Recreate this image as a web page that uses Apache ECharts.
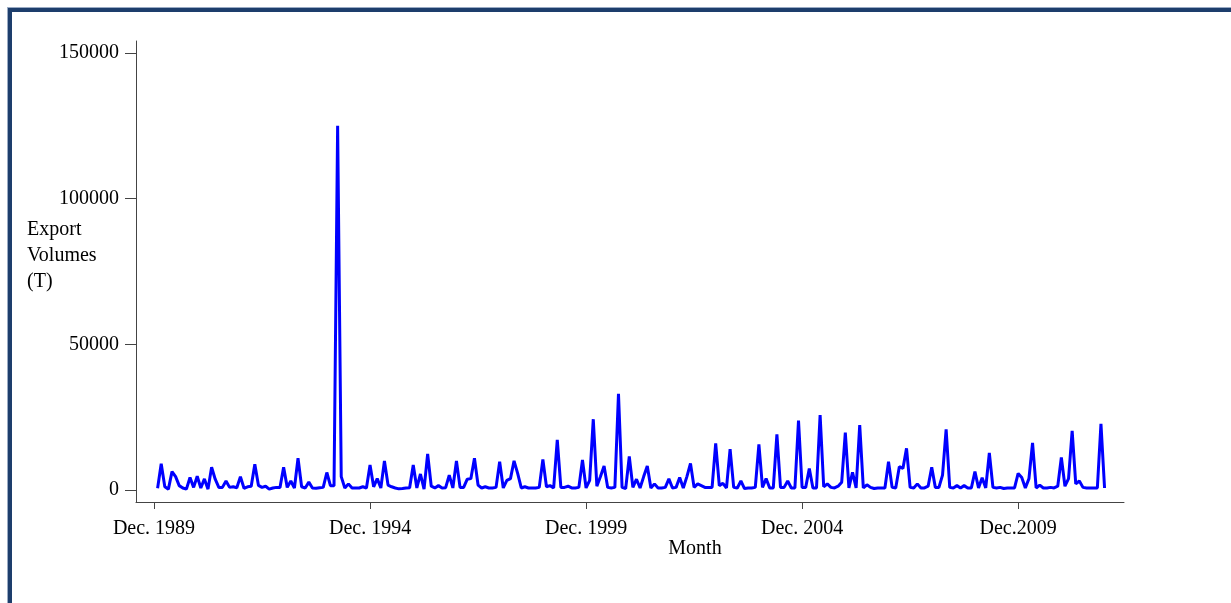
<!DOCTYPE html>
<html>
<head>
<meta charset="utf-8">
<title>Export Volumes</title>
<script src="https://cdn.jsdelivr.net/npm/echarts@6/dist/echarts.min.js"></script>
<style>
    html, body { margin: 0; padding: 0; background: #fff; }
    #main { width: 1231px; height: 603px; }
</style>
</head>
<body>
<div id="main"></div>
<script>
// monthly export volumes (T), Jan 1990 .. Dec 2011, one row per year
var exportVolumes = [
    600, 9000, 1100, 300, 6300, 4600, 1500, 700, 300, 4300, 900, 4700,
    700, 3800, 300, 7800, 3700, 900, 900, 3100, 900, 1100, 800, 4600,
    600, 1100, 1300, 8800, 1600, 900, 1300, 300, 700, 900, 900, 7800,
    900, 3100, 700, 10900, 1100, 700, 2700, 700, 600, 800, 900, 6000,
    1500, 1500, 125000, 4600, 700, 2100, 700, 700, 700, 1100, 700, 8600,
    1100, 3900, 700, 10000, 1700, 1100, 700, 400, 500, 700, 800, 8600,
    700, 5500, 300, 12400, 1300, 700, 1500, 700, 800, 5100, 700, 10000,
    900, 900, 3700, 3900, 10900, 1700, 700, 1100, 700, 700, 900, 9700,
    700, 3300, 3900, 10000, 5700, 700, 1100, 700, 700, 700, 900, 10500,
    1100, 1500, 700, 17200, 900, 900, 1300, 700, 700, 900, 10300, 700,
    3300, 24300, 1300, 4600, 8200, 900, 700, 900, 33000, 900, 500, 11500,
    900, 3700, 700, 4600, 8200, 700, 2100, 700, 700, 900, 3800, 700,
    900, 4300, 700, 4600, 9100, 900, 2100, 1500, 900, 900, 900, 16000,
    1500, 2300, 700, 14000, 900, 700, 3100, 500, 700, 700, 900, 15700,
    900, 3900, 700, 700, 19100, 900, 900, 3100, 700, 700, 23800, 900,
    900, 7400, 700, 700, 25700, 1100, 2100, 900, 700, 1300, 2700, 19700,
    700, 6100, 700, 22300, 700, 1800, 900, 500, 700, 700, 700, 9700,
    900, 700, 8000, 7400, 14300, 900, 700, 2100, 700, 700, 1300, 7800,
    900, 900, 5100, 20800, 900, 700, 1500, 700, 1500, 700, 700, 6300,
    700, 4200, 700, 12700, 900, 700, 900, 500, 700, 700, 700, 5700,
    4300, 700, 3900, 16200, 700, 1700, 700, 700, 900, 700, 1300, 11200,
    1300, 3900, 20300, 2100, 3100, 900, 700, 700, 700, 700, 22700, 700
];
// months counted from Dec. 1989 (= 0); first value is Jan. 1990
var firstMonth = 1;
var tickMonths = [0, 60, 120, 180, 240];
var tickLabels = ['Dec. 1989', 'Dec. 1994', 'Dec. 1999', 'Dec. 2004', 'Dec.2009'];
var yTicks = [0, 50000, 100000, 150000];

var serif = "'Liberation Serif', 'Times New Roman', 'DejaVu Serif', serif";

var seriesData = [];
for (var i = 0; i < exportVolumes.length; i++) {
    seriesData.push([firstMonth + i, exportVolumes[i]]);
}

var myChart = echarts.init(document.getElementById('main'));

var option = {
    animation: false,
    backgroundColor: '#fff',
    grid: {
        left: 136,
        right: 107,
        top: 41,
        bottom: 101
    },
    xAxis: {
        type: 'value',
        min: -5,
        max: 269.4,
        axisLine: { show: true, onZero: false, lineStyle: { color: '#444', width: 1 } },
        axisTick: {
            show: true,
            length: 7,
            customValues: tickMonths,
            lineStyle: { color: '#444' }
        },
        axisLabel: {
            customValues: tickMonths,
            margin: 17,
            color: '#000',
            fontFamily: serif,
            fontSize: 20,
            formatter: function (v) {
                var k = tickMonths.indexOf(Math.round(v));
                return k >= 0 ? tickLabels[k] : '';
            }
        },
        splitLine: { show: false }
    },
    yAxis: {
        type: 'value',
        min: -4119,
        max: 154119,
        axisLine: { show: true, onZero: false, lineStyle: { color: '#444', width: 1 } },
        axisTick: {
            show: true,
            length: 11,
            customValues: yTicks,
            lineStyle: { color: '#444' }
        },
        axisLabel: {
            customValues: yTicks,
            margin: 17,
            color: '#000',
            fontFamily: serif,
            fontSize: 20,
            formatter: function (v) { return String(Math.round(v)); }
        },
        splitLine: { show: false }
    },
    series: [
        {
            name: 'Export Volumes',
            type: 'line',
            data: seriesData,
            showSymbol: false,
            lineStyle: { color: '#0000ff', width: 3 }
        }
    ],
    graphic: [
        { type: 'rect', shape: { x: 7, y: 7, width: 1224, height: 1 }, style: { fill: '#9aabc4' } },
        { type: 'rect', shape: { x: 7, y: 7, width: 1, height: 596 }, style: { fill: '#9aabc4' } },
        { type: 'rect', shape: { x: 8, y: 8, width: 1223, height: 4 }, style: { fill: '#1d3e6c' } },
        { type: 'rect', shape: { x: 8, y: 8, width: 4, height: 595 }, style: { fill: '#1d3e6c' } },
        {
            type: 'text',
            left: 27,
            top: 217,
            style: {
                text: 'Export\nVolumes\n(T)',
                fill: '#000',
                font: '20px ' + serif,
                lineHeight: 26
            }
        },
        {
            type: 'text',
            x: 695,
            y: 549,
            style: {
                text: 'Month',
                fill: '#000',
                font: '20px ' + serif,
                align: 'center',
                verticalAlign: 'middle'
            }
        }
    ]
};

myChart.setOption(option);
</script>
</body>
</html>
